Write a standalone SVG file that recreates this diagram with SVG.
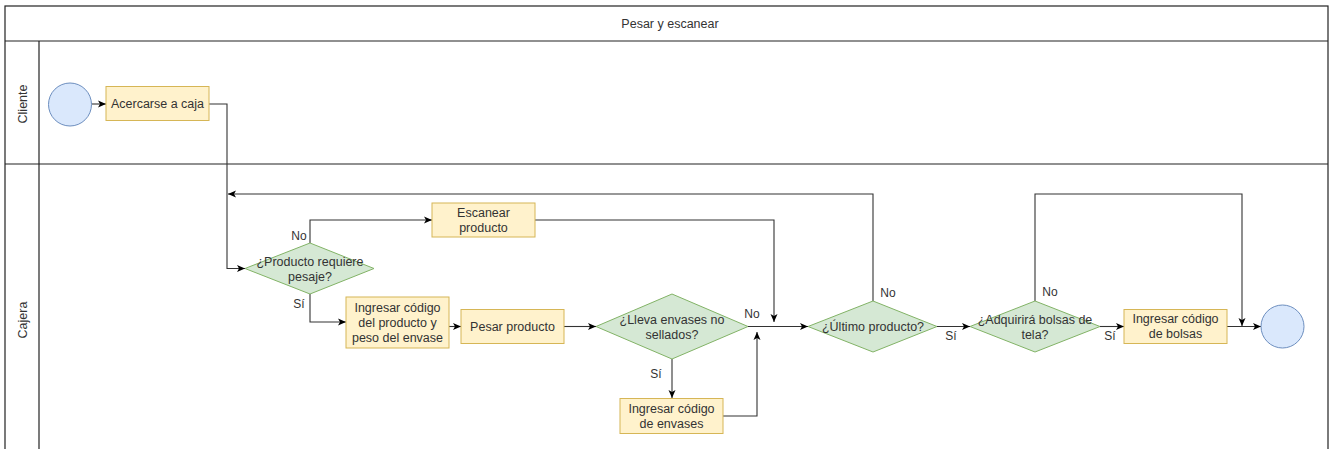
<svg xmlns="http://www.w3.org/2000/svg" width="1336" height="449" viewBox="0 0 1336 449">
  <style>
    .pool { fill: #ffffff; stroke: #222222; stroke-width: 1.2; }
    .sep { stroke: #222222; stroke-width: 1.2; fill: none; }
    .task { fill: #fff2cc; stroke: #d6b656; stroke-width: 1; }
    .gate { fill: #d5e8d4; stroke: #82b366; stroke-width: 1; }
    .event { fill: #dae8fc; stroke: #6c8ebf; stroke-width: 1; }
    .edge { fill: none; stroke: #333333; stroke-width: 1.1; }
    .arrow { marker-end: url(#head); }
    text { font-family: "Liberation Sans", Arial, sans-serif; font-size: 12.5px; fill: #333333; text-anchor: middle; dominant-baseline: central; }
    .lbl { font-size: 12px; }
  </style>
  <defs>
    <marker id="head" markerUnits="userSpaceOnUse" markerWidth="10" markerHeight="10" refX="8" refY="4" orient="auto">
      <path d="M0,0.5 L8,4 L0,7.5 L2,4 z" fill="#000000"/>
    </marker>
  </defs>

  <rect width="1336" height="449" fill="#ffffff"/>

  <!-- pool and lanes -->
  <g id="pool">
    <rect class="pool" x="5" y="6" width="1323" height="460"/>
    <line class="sep" x1="5" y1="41" x2="1328" y2="41"/>
    <line class="sep" x1="5" y1="164" x2="1328" y2="164"/>
    <line class="sep" x1="39" y1="41" x2="39" y2="460"/>
    <text x="670" y="24">Pesar y escanear</text>
  </g>
  <g id="lane-cliente">
    <text transform="translate(23,104) rotate(-90)">Cliente</text>
  </g>
  <g id="lane-cajera">
    <text transform="translate(23,320) rotate(-90)">Cajera</text>
  </g>

  <!-- connectors -->
  <g id="connectors">
    <path class="edge arrow" d="M91.5,104 L106,104"/>
    <path class="edge arrow" d="M209,104 L227,104 L227,268.5 L245,268.5"/>
    <path class="edge arrow" d="M310,243 L310,220 L432,220"/>
    <path class="edge arrow" d="M535,220 L774,220 L774,322"/>
    <path class="edge arrow" d="M310,294 L310,322 L346,322"/>
    <path class="edge arrow" d="M449,326.5 L461,326.5"/>
    <path class="edge arrow" d="M564,326.5 L596,326.5"/>
    <path class="edge arrow" d="M672,359 L672,398"/>
    <path class="edge arrow" d="M723,416 L757,416 L757,332"/>
    <path class="edge arrow" d="M748,326.5 L808,326.5"/>
    <path class="edge arrow" d="M873,301 L873,194 L228,194"/>
    <path class="edge arrow" d="M937,326.5 L970,326.5"/>
    <path class="edge arrow" d="M1035,301 L1035,194 L1242,194 L1242,326"/>
    <path class="edge arrow" d="M1100,326.5 L1124,326.5"/>
    <path class="edge arrow" d="M1227,326.5 L1261,326.5"/>

    <text class="lbl" x="299" y="236">No</text>
    <text class="lbl" x="299" y="304">Sí</text>
    <text class="lbl" x="656" y="374">Sí</text>
    <text class="lbl" x="752" y="314">No</text>
    <text class="lbl" x="888" y="293">No</text>
    <text class="lbl" x="951" y="336">Sí</text>
    <text class="lbl" x="1050" y="292">No</text>
    <text class="lbl" x="1110" y="336">Sí</text>
  </g>

  <!-- nodes -->
  <g id="start">
    <circle class="event" cx="70" cy="104.5" r="21.5"/>
  </g>
  <g id="acercarse">
    <rect class="task" x="106" y="86.5" width="103" height="34"/>
    <text x="157.5" y="103.5">Acercarse a caja</text>
  </g>
  <g id="requiere-pesaje">
    <polygon class="gate" points="245,268.5 310,243 374,268.5 310,294"/>
    <text x="310" y="262">¿Producto requiere</text>
    <text x="310" y="277">pesaje?</text>
  </g>
  <g id="escanear">
    <rect class="task" x="432" y="203" width="103" height="34"/>
    <text x="483.5" y="212.5">Escanear</text>
    <text x="483.5" y="227.5">producto</text>
  </g>
  <g id="ingresar-producto">
    <rect class="task" x="346" y="297" width="103" height="51"/>
    <text x="397.5" y="307.5">Ingresar código</text>
    <text x="397.5" y="322.5">del producto y</text>
    <text x="397.5" y="337.5">peso del envase</text>
  </g>
  <g id="pesar">
    <rect class="task" x="461" y="309.5" width="103" height="34"/>
    <text x="512.5" y="326.5">Pesar producto</text>
  </g>
  <g id="envases-no-sellados">
    <polygon class="gate" points="596,326.5 672,294 748,326.5 672,359"/>
    <text x="672" y="320">¿Lleva envases no</text>
    <text x="672" y="335">sellados?</text>
  </g>
  <g id="ingresar-envases">
    <rect class="task" x="620" y="398.5" width="103" height="35"/>
    <text x="671.5" y="408.5">Ingresar código</text>
    <text x="671.5" y="423.5">de envases</text>
  </g>
  <g id="ultimo-producto">
    <polygon class="gate" points="808,326.5 873,301 937,326.5 873,352"/>
    <text x="873" y="326.5">¿Último producto?</text>
  </g>
  <g id="bolsas-tela">
    <polygon class="gate" points="970,326.5 1035,301 1100,326.5 1035,352"/>
    <text x="1035" y="319.5">¿Adquirirá bolsas de</text>
    <text x="1035" y="334.5">tela?</text>
  </g>
  <g id="ingresar-bolsas">
    <rect class="task" x="1124" y="309.5" width="103" height="34"/>
    <text x="1175.5" y="319">Ingresar código</text>
    <text x="1175.5" y="334">de bolsas</text>
  </g>
  <g id="end">
    <circle class="event" cx="1282.5" cy="326.5" r="21.5"/>
  </g>
</svg>
